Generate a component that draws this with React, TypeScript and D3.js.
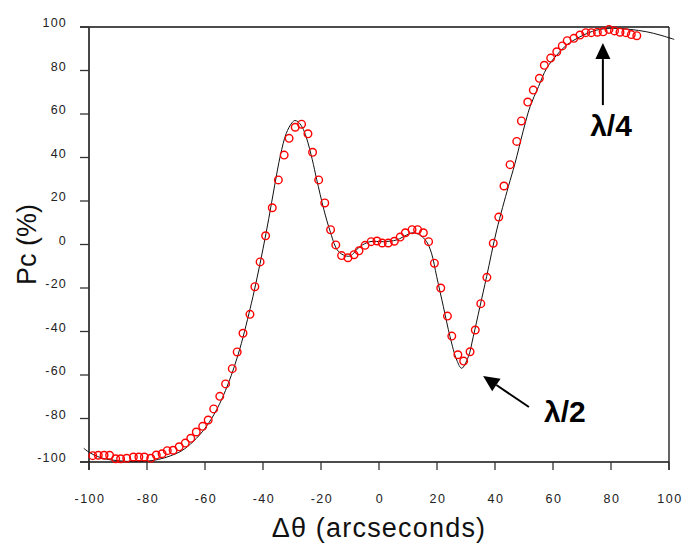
import React from "react";
import * as d3 from "d3";

const W = 685;
const H = 544;

const xTicks = [-100, -80, -60, -40, -20, 0, 20, 40, 60, 80, 100];
const yTicks = [-100, -80, -60, -40, -20, 0, 20, 40, 60, 80, 100];

// measured data (red circles)
const dataX = [
  -98.7, -96.8, -94.8, -92.9, -90.8, -89.1, -87, -84.7, -82.8, -80.9, -78.7, -76.8, -74.8, -73, -71,
  -68.9, -66.8, -64.9, -63, -60.8, -58.9, -57, -54.9, -52.9, -50.6, -48.9, -46.9, -44.5, -42.8, -41,
  -39.1, -36.8, -34.7, -32.7, -31, -28.9, -26.7, -24.5, -22.9, -20.8, -18.7, -16.7, -14.9, -12.9,
  -10.7, -8.6, -6.9, -4.8, -2.7, -0.7, 1.1, 3.2, 5.3, 7.3, 9.1, 11.4, 13.3, 15.3, 17.1, 19.1, 21.3,
  23.6, 25.1, 27.2, 29.2, 31.4, 33.2, 35.1, 37.2, 39.4, 41.3, 43.1, 45.2, 47.5, 49.1, 51.3, 53.2,
  55.3, 57, 59.2, 61.3, 63.2, 64.9, 67.2, 69.3, 71.3, 73.2, 75.3, 77.3, 79.3, 81.2, 83.1, 85.1, 87,
  88.9,
];
const dataY = [
  -97.1, -96.9, -96.9, -96.9, -98.5, -98.5, -98.3, -97.7, -97.7, -97.7, -98.3, -96.8, -96.2, -94.8,
  -94.6, -93, -91.3, -89.1, -86.2, -83.6, -80.7, -75.6, -69.8, -64.1, -57.1, -49.4, -40.8, -32.1,
  -19.4, -8, 4, 16.9, 29.7, 41.1, 48.8, 53.9, 55.3, 50.9, 42.4, 29.7, 19.1, 6.8, -0.2, -5.1, -6.1,
  -4.7, -2.9, -0.4, 1.3, 1.6, 0.7, 0.7, 1.5, 3.4, 5.4, 6.8, 6.8, 5.4, 1.3, -8.6, -20, -32.9, -42.1,
  -50.7, -53.6, -49.3, -39.3, -27.2, -15.1, 0.6, 12.6, 26.9, 36.7, 47.4, 56.8, 65.5, 71, 76.4, 82.4,
  85.7, 88.6, 91.3, 93.7, 94.8, 96.3, 97.4, 97.4, 97.6, 97.8, 98.9, 98.2, 97.6, 97.4, 96.5, 96,
];

// theoretical curve (black line)
const curveX = [
  -101.8, -100, -97, -94, -90, -85, -80, -76, -72, -68, -64, -60, -56, -52, -48, -44, -42, -40, -38,
  -36, -34, -32, -30, -29, -28, -26.5, -25, -23, -21.5, -19, -17, -14.4, -12.3, -10, -6.6, -3.1, 1.5,
  6.1, 9.6, 11.8, 14.1, 16.4, 18.1, 19.9, 22.2, 24.5, 26.8, 28.5, 30.8, 32.5, 34.8, 37.1, 40.6, 44.6,
  46.9, 49.8, 52.1, 55, 57.8, 61.3, 64.7, 69.3, 75.1, 80.8, 86.6, 92.3, 96.9, 101.8,
];
const curveY = [
  -93.7, -95.5, -97.5, -98.7, -99.4, -99.8, -99.6, -98.8, -97.2, -94.8, -90.5, -84.5, -76, -64, -48,
  -27, -15, -2, 12, 27, 41, 51, 56, 57, 56.5, 54, 49, 39, 30, 16, 6.7, -2.5, -4.8, -5.3, -1, 1.3, 1.3,
  2.1, 4.4, 5.4, 4.4, 1.3, -4, -14.8, -28.6, -42.4, -53.1, -56.9, -51.6, -42.4, -28.6, -14.8, 6.7,
  26.6, 37.3, 52.6, 63.4, 72.6, 81, 87.1, 91.7, 95.5, 98.6, 99.4, 98.9, 97.8, 96.3, 94.3,
];

// annotations in data coordinates
const annoLabels = ["λ/2", "λ/4"];
const annoTextX = [64.1, 80.0];
const annoTextY = [-76.6, 55.0];
const arrowTailX = [51.7, 77.2];
const arrowTailY = [-74.7, 64.1];
const arrowTipX = [35.9, 77.2];
const arrowTipY = [-60.5, 92.6];

const FONT = "'Liberation Sans', Arial, Helvetica, sans-serif";

export default function App() {
  const x = d3.scaleLinear().domain([-100, 100]).range([89, 669]);
  const y = d3.scaleLinear().domain([-100, 100]).range([462, 27]);

  const line = d3
    .line<number>()
    .x((_, i) => x(curveX[i]))
    .y((_, i) => y(curveY[i]))
    .curve(d3.curveCatmullRom.alpha(0.5));

  const x0 = x(-100);
  const x1 = x(100);
  const yTop = y(100);
  const yBot = y(-100);

  const arrows = annoLabels.map((_, i) => {
    const tx = x(arrowTipX[i]);
    const ty = y(arrowTipY[i]);
    const sx = x(arrowTailX[i]);
    const sy = y(arrowTailY[i]);
    const dx = tx - sx;
    const dy = ty - sy;
    const len = Math.hypot(dx, dy);
    const ux = dx / len;
    const uy = dy / len;
    const headL = 16;
    const headW = 7.5;
    const bx = tx - ux * headL;
    const by = ty - uy * headL;
    const px = -uy;
    const py = ux;
    const head = `M${tx},${ty}L${bx + px * headW},${by + py * headW}L${bx - px * headW},${by - py * headW}Z`;
    return { sx, sy, bx, by, head };
  });

  return (
    <svg
      width={W}
      height={H}
      style={{ position: "absolute", left: 0, top: 0, background: "#fff" }}
      fontFamily={FONT}
    >
      <rect x={0} y={0} width={W} height={H} fill="#fff" />
      {/* frame */}
      <line x1={80} x2={x1} y1={yTop} y2={yTop} stroke="#111" strokeWidth={1.3} />
      <line x1={x1} x2={x1} y1={yTop} y2={yBot + 8} stroke="#111" strokeWidth={1.3} />
      {/* axes */}
      <line x1={x0} x2={x0} y1={yTop} y2={yBot + 8} stroke="#333" strokeWidth={1.8} />
      <line x1={80} x2={x1} y1={yBot} y2={yBot} stroke="#111" strokeWidth={1.5} />
      {yTicks.map((t) => (
        <g key={"y" + t}>
          <line x1={80} x2={x0} y1={y(t)} y2={y(t)} stroke="#333" strokeWidth={1.3} />
          <text
            x={67}
            y={y(t) - 4}
            textAnchor="end"
            dominantBaseline="central"
            fontSize={12.5}
            letterSpacing={1.2}
            fill="#222"
          >
            {t}
          </text>
        </g>
      ))}
      {xTicks.map((t) => (
        <g key={"x" + t}>
          <line x1={x(t)} x2={x(t)} y1={yBot} y2={yBot + 8} stroke="#333" strokeWidth={1.3} />
          <text
            x={x(t) + 1}
            y={503}
            textAnchor="middle"
            fontSize={12.5}
            letterSpacing={1.5}
            fill="#222"
          >
            {t}
          </text>
        </g>
      ))}
      {/* theory curve */}
      <path d={line(curveX) || ""} fill="none" stroke="#111" strokeWidth={1} />
      {/* data */}
      {dataX.map((v, i) => (
        <circle
          key={"d" + i}
          cx={x(v)}
          cy={y(dataY[i])}
          r={3.8}
          fill="none"
          stroke="#ff0000"
          strokeWidth={1.4}
        />
      ))}
      {/* annotations */}
      {arrows.map((a, i) => (
        <g key={"a" + i}>
          <line x1={a.sx} y1={a.sy} x2={a.bx} y2={a.by} stroke="#000" strokeWidth={2} />
          <path d={a.head} fill="#000" />
          <text
            x={x(annoTextX[i])}
            y={y(annoTextY[i]) + 11}
            textAnchor="middle"
            fontSize={30}
            fontWeight="bold"
            fill="#000"
          >
            {annoLabels[i]}
          </text>
        </g>
      ))}
      {/* axis titles */}
      <text
        x={(x0 + x1) / 2}
        y={537}
        textAnchor="middle"
        fontSize={27}
        letterSpacing={1.2}
        fill="#111"
      >
        Δθ (arcseconds)
      </text>
      <text
        transform={`translate(36, ${y(0)}) rotate(-90)`}
        textAnchor="middle"
        fontSize={27}
        fill="#111"
      >
        Pc (%)
      </text>
    </svg>
  );
}
